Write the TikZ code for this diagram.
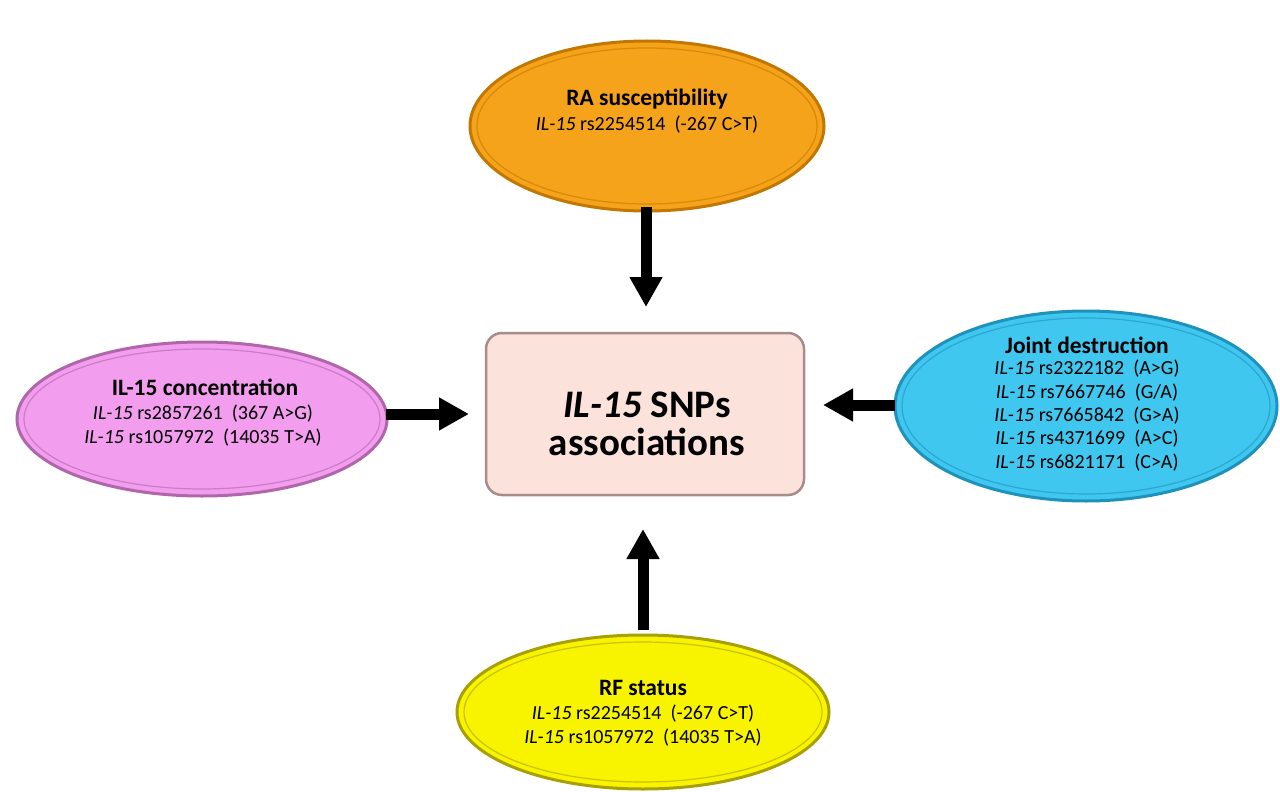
\documentclass[tikz,border=0pt]{standalone}
\usepackage{fontspec}
\setmainfont{Carlito}
\usetikzlibrary{shapes.geometric,arrows.meta}
\definecolor{orfill}{HTML}{F5A31A}
\definecolor{ordraw}{HTML}{C27800}
\definecolor{pkfill}{HTML}{F39DEF}
\definecolor{pkdraw}{HTML}{B066AA}
\definecolor{blfill}{HTML}{40C7F0}
\definecolor{bldraw}{HTML}{1E92BA}
\definecolor{ylfill}{HTML}{F8F400}
\definecolor{yldraw}{HTML}{A8A000}
\definecolor{cnfill}{HTML}{FBE2DB}
\definecolor{cndraw}{HTML}{A88C88}
\tikzset{
  oval/.style={ellipse, line width=3pt, inner sep=0pt},
  lbl/.style={align=center, inner sep=0pt, anchor=base, font=\fontsize{20}{23.3}\selectfont},
  ttl/.style={inner sep=0pt, font=\fontsize{23.5}{26}\selectfont\bfseries, anchor=base},
  bigarrow/.style={line width=11pt, -{Triangle[length=30pt,width=31pt]}},
}
\newcommand{\ilit}{\textit{IL-15}}
\begin{document}
\begin{tikzpicture}[x=1pt,y=-1pt]
\useasboundingbox (0,0) rectangle (1280,792);
% ellipses
\node[oval, fill=orfill, draw=ordraw, minimum width=354pt, minimum height=170pt] (ra) at (647,126) {};
\node[oval, fill=pkfill, draw=pkdraw, minimum width=370pt, minimum height=154pt] (il) at (202,419) {};
\node[oval, fill=blfill, draw=bldraw, minimum width=382pt, minimum height=190pt] (jd) at (1086,406) {};
\node[oval, fill=ylfill, draw=yldraw, minimum width=372pt, minimum height=154pt] (rf) at (643,712) {};
% inner rims
\draw[ordraw!60!orfill, line width=1.2pt] (ra.center) ellipse (170pt and 78pt);
\draw[pkdraw!60!pkfill, line width=1.2pt] (il.center) ellipse (178pt and 70pt);
\draw[bldraw!60!blfill, line width=1.2pt] (jd.center) ellipse (184pt and 88pt);
\draw[yldraw!60!ylfill, line width=1.2pt] (rf.center) ellipse (179pt and 70pt);
% centre box
\node[draw=cndraw, line width=2.5pt, fill=cnfill, rounded corners=16pt, minimum width=318pt, minimum height=162pt, inner sep=0pt] (c) at (645,414) {};
\node[align=center, inner sep=0pt, anchor=base, font=\fontsize{39}{38}\selectfont\bfseries] (ct) at (647,455) {\textit{IL-15} SNPs\\associations};
% texts
\node[ttl] (rat) at (647,105) {RA susceptibility};
\node[lbl] (ras) at (647,130) {\ilit\ rs2254514\ \ (-267 C>T)};
\node[ttl] (ilt) at (205,395) {IL-15 concentration};
\node[lbl] (ils) at (203,443) {\ilit\ rs2857261\ \ (367 A>G)\\\ilit\ rs1057972\ \ (14035 T>A)};
\node[ttl] (jdt) at (1087,353) {Joint destruction};
\node[lbl] (jds) at (1087,468) {\ilit\ rs2322182\ \ (A>G)\\\ilit\ rs7667746\ \ (G/A)\\\ilit\ rs7665842\ \ (G>A)\\\ilit\ rs4371699\ \ (A>C)\\\ilit\ rs6821171\ \ (C>A)};
\node[ttl] (rft) at (643,695) {RF status};
\node[lbl] (rfs) at (643,743) {\ilit\ rs2254514\ \ (-267 C>T)\\\ilit\ rs1057972\ \ (14035 T>A)};
% arrow endpoints
\coordinate (a1s) at (646,207); \coordinate (a1e) at (646,307);
\coordinate (a2s) at (386,414); \coordinate (a2e) at (469,414);
\coordinate (a3s) at (895,405); \coordinate (a3e) at (823,405);
\coordinate (a4s) at (643,630); \coordinate (a4e) at (643,529);
\draw[bigarrow] (a1s) -- (a1e);
\draw[bigarrow] (a2s) -- (a2e);
\draw[bigarrow] (a3s) -- (a3e);
\draw[bigarrow] (a4s) -- (a4e);
\end{tikzpicture}
\end{document}
